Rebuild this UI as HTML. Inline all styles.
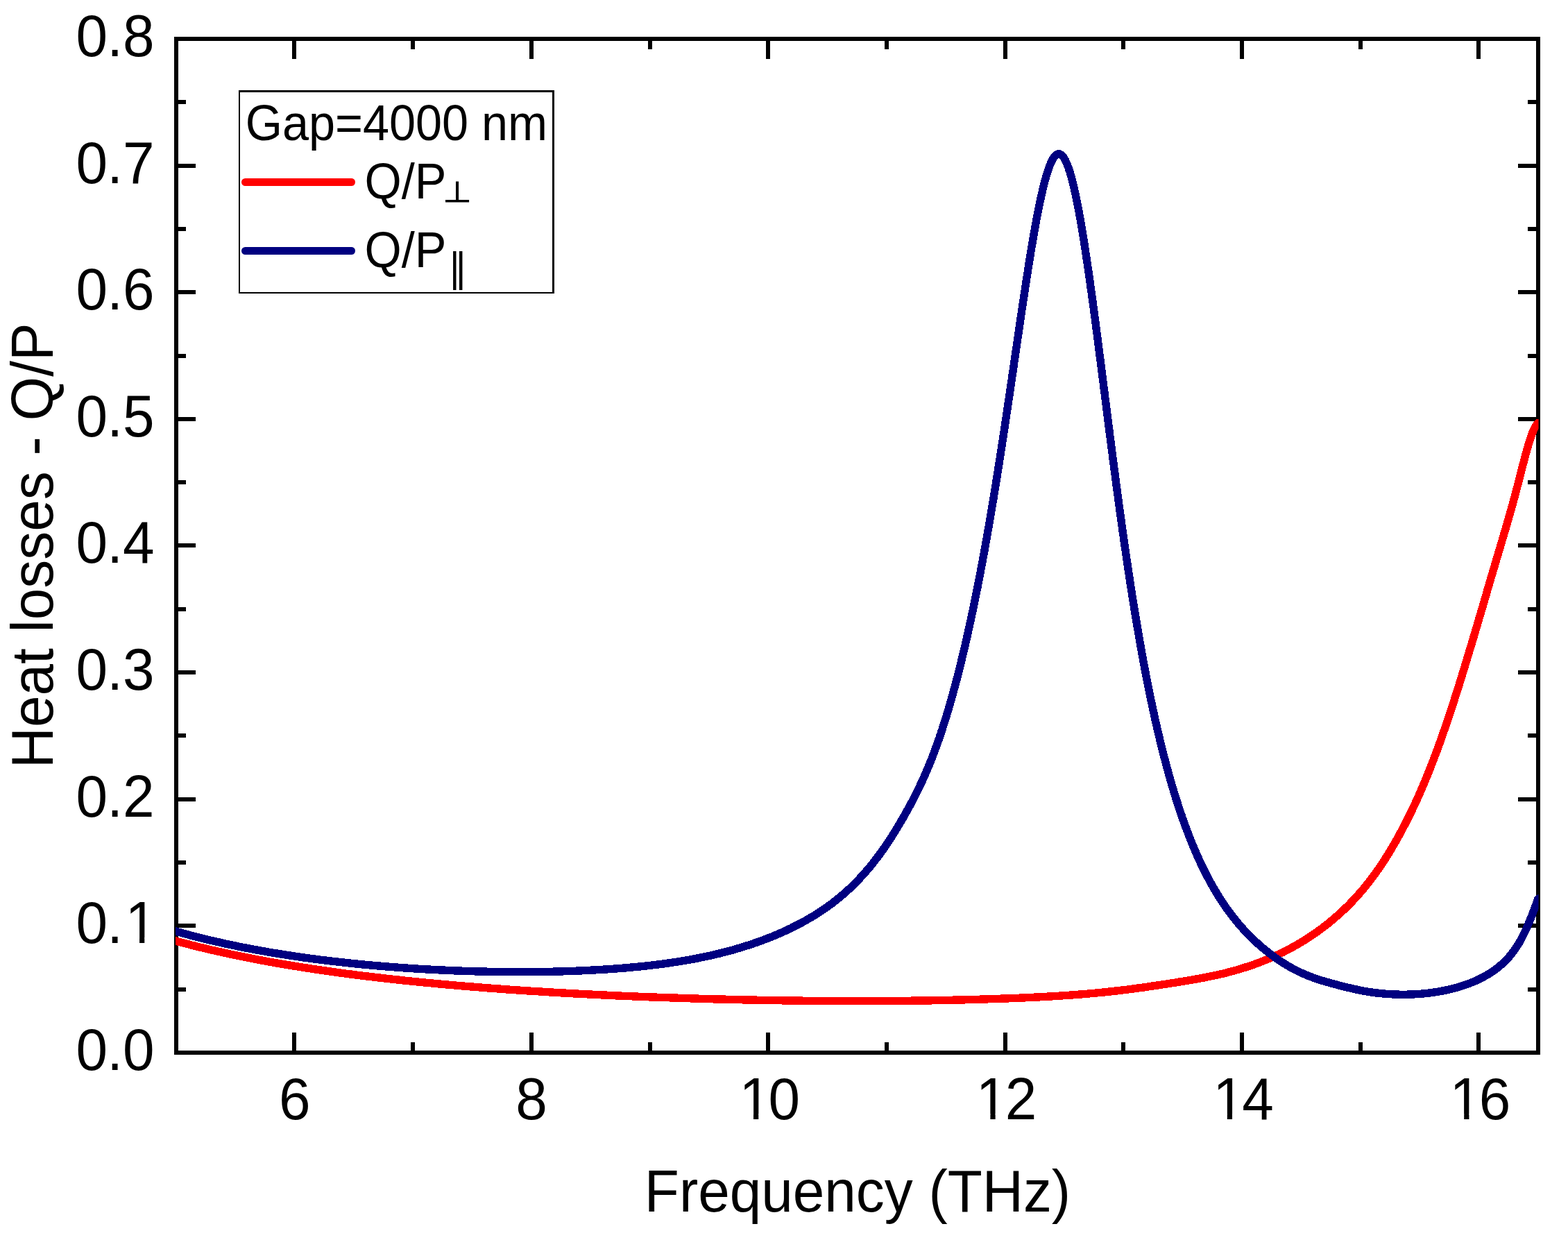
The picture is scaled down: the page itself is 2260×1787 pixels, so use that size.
<!DOCTYPE html>
<html lang="en">
<head>
<meta charset="utf-8">
<title>Heat losses - Q/P vs Frequency (THz)</title>
<style>
html,body{margin:0;padding:0;background:#fff;}
body{width:2260px;height:1787px;overflow:hidden;}
svg{display:block;}
text{fill:#000;font-kerning:none;font-variant-ligatures:none;white-space:pre;}
.ax{fill:none;stroke:#000;stroke-width:6;shape-rendering:crispEdges;}
.tk{fill:#000;shape-rendering:crispEdges;}
.cv{fill:none;stroke-width:11.4;stroke-linejoin:round;stroke-linecap:round;shape-rendering:crispEdges;}
</style>
</head>
<body>
<svg width="2260" height="1787" viewBox="0 0 2260 1787">
<defs><clipPath id="nofoot" clipPathUnits="userSpaceOnUse"><path clip-rule="evenodd" d="M-200 -120H200V60H-200Z M3.74 -7.6H20.59V3H3.74Z M27.83 -7.6H43.55V3H27.83Z"/></clipPath><clipPath id="plot"><rect x="253" y="50" width="1964.5" height="1470"/></clipPath></defs>
<rect x="0" y="0" width="2260" height="1787" fill="#fff"/>
<g class="tk"><rect x="421" y="1488" width="6" height="26"/><rect x="421" y="59" width="6" height="26"/><rect x="592" y="1502" width="6" height="12"/><rect x="592" y="59" width="6" height="12"/><rect x="763" y="1488" width="6" height="26"/><rect x="763" y="59" width="6" height="26"/><rect x="934" y="1502" width="6" height="12"/><rect x="934" y="59" width="6" height="12"/><rect x="1104" y="1488" width="6" height="26"/><rect x="1104" y="59" width="6" height="26"/><rect x="1275" y="1502" width="6" height="12"/><rect x="1275" y="59" width="6" height="12"/><rect x="1446" y="1488" width="6" height="26"/><rect x="1446" y="59" width="6" height="26"/><rect x="1616" y="1502" width="6" height="12"/><rect x="1616" y="59" width="6" height="12"/><rect x="1787" y="1488" width="6" height="26"/><rect x="1787" y="59" width="6" height="26"/><rect x="1958" y="1502" width="6" height="12"/><rect x="1958" y="59" width="6" height="12"/><rect x="2128" y="1488" width="6" height="26"/><rect x="2128" y="59" width="6" height="26"/><rect x="257" y="1423" width="11" height="6"/><rect x="2202" y="1423" width="12" height="6"/><rect x="257" y="1331" width="25" height="6"/><rect x="2188" y="1331" width="26" height="6"/><rect x="257" y="1240" width="11" height="6"/><rect x="2202" y="1240" width="12" height="6"/><rect x="257" y="1149" width="25" height="6"/><rect x="2188" y="1149" width="26" height="6"/><rect x="257" y="1057" width="11" height="6"/><rect x="2202" y="1057" width="12" height="6"/><rect x="257" y="966" width="25" height="6"/><rect x="2188" y="966" width="26" height="6"/><rect x="257" y="875" width="11" height="6"/><rect x="2202" y="875" width="12" height="6"/><rect x="257" y="783" width="25" height="6"/><rect x="2188" y="783" width="26" height="6"/><rect x="257" y="692" width="11" height="6"/><rect x="2202" y="692" width="12" height="6"/><rect x="257" y="601" width="25" height="6"/><rect x="2188" y="601" width="26" height="6"/><rect x="257" y="510" width="11" height="6"/><rect x="2202" y="510" width="12" height="6"/><rect x="257" y="418" width="25" height="6"/><rect x="2188" y="418" width="26" height="6"/><rect x="257" y="327" width="11" height="6"/><rect x="2202" y="327" width="12" height="6"/><rect x="257" y="236" width="25" height="6"/><rect x="2188" y="236" width="26" height="6"/><rect x="257" y="144" width="11" height="6"/><rect x="2202" y="144" width="12" height="6"/></g>
<rect class="ax" x="254" y="56" width="1963" height="1461"/>
<g clip-path="url(#plot)">
<path class="cv" stroke="#ff0000" d="M253.0 1356.0L255.9 1356.8L258.8 1357.5L261.7 1358.3L264.6 1359.1L267.5 1359.8L270.4 1360.6L273.3 1361.3L276.2 1362.1L279.1 1362.8L282.1 1363.5L285.0 1364.3L287.9 1365.0L290.8 1365.7L293.7 1366.4L296.7 1367.1L299.6 1367.8L302.5 1368.5L305.4 1369.1L308.4 1369.8L311.3 1370.5L314.2 1371.1L317.1 1371.8L320.1 1372.4L323.0 1373.1L325.9 1373.7L328.9 1374.4L331.8 1375.0L334.8 1375.6L337.7 1376.2L340.6 1376.8L343.6 1377.5L346.5 1378.1L349.5 1378.7L352.4 1379.2L355.3 1379.8L358.3 1380.4L361.2 1381.0L364.2 1381.6L367.1 1382.1L370.1 1382.7L373.0 1383.3L376.0 1383.8L378.9 1384.4L381.9 1384.9L384.9 1385.4L387.8 1386.0L390.8 1386.5L393.7 1387.0L396.7 1387.6L399.6 1388.1L402.6 1388.6L405.6 1389.1L408.5 1389.6L411.5 1390.1L414.4 1390.6L417.4 1391.1L420.4 1391.6L423.3 1392.1L426.3 1392.5L429.3 1393.0L432.2 1393.5L435.2 1394.0L438.2 1394.4L441.1 1394.9L444.1 1395.3L447.1 1395.8L450.0 1396.3L453.0 1396.7L456.0 1397.1L458.9 1397.6L461.9 1398.0L464.9 1398.4L467.9 1398.9L470.8 1399.3L473.8 1399.7L476.8 1400.1L479.8 1400.6L482.7 1401.0L485.7 1401.4L488.7 1401.8L491.7 1402.2L494.6 1402.6L497.6 1403.0L500.6 1403.4L503.6 1403.8L506.5 1404.1L509.5 1404.5L512.5 1404.9L515.5 1405.3L518.5 1405.7L521.4 1406.0L524.4 1406.4L527.4 1406.8L530.4 1407.1L533.4 1407.5L536.3 1407.8L539.3 1408.2L542.3 1408.5L545.3 1408.9L548.3 1409.2L551.3 1409.6L554.2 1409.9L557.2 1410.3L560.2 1410.6L563.2 1410.9L566.2 1411.3L569.2 1411.6L572.2 1411.9L575.1 1412.2L578.1 1412.5L581.1 1412.9L584.1 1413.2L587.1 1413.5L590.1 1413.8L593.1 1414.1L596.1 1414.4L599.0 1414.7L602.0 1415.0L605.0 1415.3L608.0 1415.6L611.0 1415.9L614.0 1416.2L617.0 1416.5L620.0 1416.7L623.0 1417.0L625.9 1417.3L628.9 1417.6L631.9 1417.9L634.9 1418.1L637.9 1418.4L640.9 1418.7L643.9 1419.0L646.9 1419.2L649.9 1419.5L652.9 1419.7L655.9 1420.0L658.8 1420.3L661.8 1420.5L664.8 1420.8L667.8 1421.0L670.8 1421.3L673.8 1421.5L676.8 1421.8L679.8 1422.0L682.8 1422.2L685.8 1422.5L688.8 1422.7L691.8 1423.0L694.8 1423.2L697.8 1423.4L700.8 1423.7L703.8 1423.9L706.7 1424.1L709.7 1424.3L712.7 1424.6L715.7 1424.8L718.7 1425.0L721.7 1425.2L724.7 1425.4L727.7 1425.6L730.7 1425.9L733.7 1426.1L736.7 1426.3L739.7 1426.5L742.7 1426.7L745.7 1426.9L748.7 1427.1L751.7 1427.3L754.7 1427.5L757.7 1427.7L760.7 1427.9L763.7 1428.1L766.7 1428.3L769.7 1428.5L772.7 1428.7L775.7 1428.8L778.7 1429.0L781.7 1429.2L784.7 1429.4L787.6 1429.6L790.6 1429.8L793.6 1429.9L796.6 1430.1L799.6 1430.3L802.6 1430.5L805.6 1430.6L808.6 1430.8L811.6 1431.0L814.6 1431.1L817.6 1431.3L820.6 1431.5L823.6 1431.6L826.6 1431.8L829.6 1432.0L832.6 1432.1L835.6 1432.3L838.6 1432.4L841.6 1432.6L844.6 1432.7L847.6 1432.9L850.6 1433.0L853.6 1433.2L856.6 1433.3L859.6 1433.5L862.6 1433.6L865.6 1433.8L868.6 1433.9L871.6 1434.1L874.6 1434.2L877.6 1434.3L880.6 1434.5L883.6 1434.6L886.6 1434.8L889.6 1434.9L892.6 1435.0L895.6 1435.2L898.6 1435.3L901.6 1435.4L904.6 1435.5L907.6 1435.7L910.6 1435.8L913.6 1435.9L916.6 1436.0L919.6 1436.2L922.6 1436.3L925.6 1436.4L928.6 1436.5L931.6 1436.6L934.6 1436.8L937.6 1436.9L940.6 1437.0L943.6 1437.1L946.6 1437.2L949.6 1437.3L952.6 1437.4L955.6 1437.5L958.6 1437.6L961.6 1437.7L964.6 1437.8L967.6 1437.9L970.6 1438.0L973.6 1438.1L976.6 1438.2L979.7 1438.3L982.7 1438.4L985.7 1438.5L988.7 1438.6L991.7 1438.7L994.7 1438.8L997.7 1438.9L1000.7 1439.0L1003.7 1439.1L1006.7 1439.2L1009.7 1439.3L1012.7 1439.3L1015.7 1439.4L1018.7 1439.5L1021.7 1439.6L1024.7 1439.7L1027.7 1439.8L1030.7 1439.8L1033.7 1439.9L1036.7 1440.0L1039.7 1440.1L1042.7 1440.1L1045.7 1440.2L1048.7 1440.3L1051.7 1440.4L1054.7 1440.4L1057.7 1440.5L1060.7 1440.6L1063.7 1440.6L1066.7 1440.7L1069.7 1440.8L1072.7 1440.8L1075.7 1440.9L1078.7 1441.0L1081.7 1441.0L1084.7 1441.1L1087.7 1441.1L1090.7 1441.2L1093.7 1441.2L1096.7 1441.3L1099.7 1441.4L1102.7 1441.4L1105.7 1441.5L1108.8 1441.5L1111.8 1441.6L1114.8 1441.6L1117.8 1441.7L1120.8 1441.7L1123.8 1441.7L1126.8 1441.8L1129.8 1441.8L1132.8 1441.9L1135.8 1441.9L1138.8 1441.9L1141.8 1442.0L1144.8 1442.0L1147.8 1442.1L1150.8 1442.1L1153.8 1442.1L1156.8 1442.2L1159.8 1442.2L1162.8 1442.2L1165.8 1442.2L1168.8 1442.3L1171.8 1442.3L1174.8 1442.3L1177.8 1442.4L1180.8 1442.4L1183.8 1442.4L1186.8 1442.4L1189.8 1442.4L1192.8 1442.5L1195.8 1442.5L1198.8 1442.5L1201.8 1442.5L1204.8 1442.5L1207.9 1442.5L1210.9 1442.5L1213.9 1442.6L1216.9 1442.6L1219.9 1442.6L1222.9 1442.6L1225.9 1442.6L1228.9 1442.6L1231.9 1442.6L1234.9 1442.6L1237.9 1442.6L1240.9 1442.6L1243.9 1442.6L1246.9 1442.6L1249.9 1442.6L1252.9 1442.6L1255.9 1442.6L1258.9 1442.6L1261.9 1442.5L1264.9 1442.5L1267.9 1442.5L1270.9 1442.5L1273.9 1442.5L1276.9 1442.5L1279.9 1442.5L1282.9 1442.4L1285.9 1442.4L1288.9 1442.4L1291.9 1442.4L1294.9 1442.3L1297.9 1442.3L1301.0 1442.3L1304.0 1442.3L1307.0 1442.2L1310.0 1442.2L1313.0 1442.2L1316.0 1442.1L1319.0 1442.1L1322.0 1442.1L1325.0 1442.0L1328.0 1442.0L1331.0 1441.9L1334.0 1441.9L1337.0 1441.8L1340.0 1441.8L1343.0 1441.8L1346.0 1441.7L1349.0 1441.7L1352.0 1441.6L1355.0 1441.5L1358.0 1441.5L1361.0 1441.4L1364.0 1441.4L1367.0 1441.3L1370.0 1441.3L1373.0 1441.2L1376.0 1441.1L1379.0 1441.1L1382.0 1441.0L1385.0 1440.9L1388.0 1440.8L1391.0 1440.8L1394.0 1440.7L1397.0 1440.6L1400.0 1440.5L1403.0 1440.5L1406.0 1440.4L1409.1 1440.3L1412.1 1440.2L1415.1 1440.1L1418.1 1440.0L1421.1 1439.9L1424.1 1439.8L1427.1 1439.7L1430.1 1439.6L1433.1 1439.5L1436.1 1439.4L1439.1 1439.3L1442.1 1439.2L1445.1 1439.1L1448.1 1439.0L1451.1 1438.9L1454.1 1438.8L1457.1 1438.7L1460.1 1438.6L1463.1 1438.4L1466.1 1438.3L1469.1 1438.2L1472.1 1438.1L1475.1 1437.9L1478.1 1437.8L1481.1 1437.7L1484.1 1437.5L1487.1 1437.4L1490.1 1437.2L1493.1 1437.1L1496.1 1436.9L1499.1 1436.8L1502.1 1436.6L1505.1 1436.4L1508.1 1436.3L1511.1 1436.1L1514.1 1435.9L1517.1 1435.8L1520.1 1435.6L1523.1 1435.4L1526.1 1435.2L1529.1 1435.0L1532.1 1434.8L1535.1 1434.6L1538.0 1434.4L1541.0 1434.2L1544.0 1434.0L1547.0 1433.8L1550.0 1433.6L1553.0 1433.3L1556.0 1433.1L1559.0 1432.9L1562.0 1432.6L1565.0 1432.4L1568.0 1432.1L1571.0 1431.8L1574.0 1431.6L1577.0 1431.3L1580.0 1431.0L1582.9 1430.7L1585.9 1430.5L1588.9 1430.2L1591.9 1429.9L1594.9 1429.6L1597.9 1429.2L1600.9 1428.9L1603.9 1428.6L1606.8 1428.2L1609.8 1427.9L1612.8 1427.5L1615.8 1427.2L1618.8 1426.8L1621.8 1426.5L1624.7 1426.1L1627.7 1425.7L1630.7 1425.3L1633.7 1424.9L1636.6 1424.5L1639.6 1424.1L1642.6 1423.7L1645.6 1423.3L1648.5 1422.9L1651.5 1422.4L1654.5 1422.0L1657.5 1421.6L1660.4 1421.1L1663.4 1420.7L1666.4 1420.3L1669.3 1419.8L1672.3 1419.4L1675.3 1418.9L1678.2 1418.5L1681.2 1418.0L1684.2 1417.6L1687.2 1417.1L1690.1 1416.6L1693.1 1416.2L1696.1 1415.7L1699.0 1415.2L1702.0 1414.7L1704.9 1414.3L1707.9 1413.8L1710.9 1413.3L1713.8 1412.8L1716.8 1412.3L1719.8 1411.8L1722.7 1411.2L1725.7 1410.7L1728.6 1410.2L1731.6 1409.6L1734.5 1409.1L1737.5 1408.5L1740.4 1407.9L1743.4 1407.3L1746.3 1406.7L1749.2 1406.1L1752.2 1405.5L1755.1 1404.8L1758.0 1404.2L1761.0 1403.5L1763.9 1402.8L1766.8 1402.1L1769.7 1401.3L1772.6 1400.6L1775.5 1399.8L1778.4 1399.0L1781.3 1398.2L1784.2 1397.4L1787.1 1396.5L1790.0 1395.6L1792.8 1394.7L1795.7 1393.8L1798.5 1392.9L1801.4 1391.9L1804.2 1391.0L1807.1 1390.0L1809.9 1389.0L1812.7 1387.9L1815.5 1386.9L1818.3 1385.8L1821.1 1384.7L1823.9 1383.6L1826.7 1382.5L1829.5 1381.3L1832.2 1380.1L1835.0 1378.9L1837.7 1377.7L1840.4 1376.4L1843.2 1375.2L1845.9 1373.9L1848.6 1372.6L1851.3 1371.2L1853.9 1369.9L1856.6 1368.5L1859.3 1367.1L1861.9 1365.6L1864.5 1364.2L1867.2 1362.7L1869.8 1361.2L1872.4 1359.7L1874.9 1358.2L1877.5 1356.6L1880.1 1355.1L1882.6 1353.5L1885.1 1351.8L1887.7 1350.2L1890.2 1348.5L1892.6 1346.8L1895.1 1345.1L1897.6 1343.4L1900.0 1341.7L1902.4 1339.9L1904.9 1338.1L1907.3 1336.3L1909.6 1334.5L1912.0 1332.6L1914.4 1330.8L1916.7 1328.9L1919.0 1327.0L1921.3 1325.0L1923.6 1323.1L1925.9 1321.1L1928.1 1319.1L1930.4 1317.1L1932.6 1315.1L1934.8 1313.1L1937.0 1311.0L1939.1 1308.9L1941.3 1306.8L1943.4 1304.7L1945.5 1302.6L1947.6 1300.4L1949.7 1298.3L1951.7 1296.1L1953.8 1293.9L1955.8 1291.6L1957.8 1289.4L1959.8 1287.1L1961.8 1284.9L1963.7 1282.6L1965.6 1280.3L1967.5 1278.0L1969.4 1275.6L1971.3 1273.3L1973.2 1270.9L1975.0 1268.6L1976.8 1266.2L1978.6 1263.8L1980.4 1261.4L1982.2 1258.9L1983.9 1256.5L1985.7 1254.0L1987.4 1251.6L1989.1 1249.1L1990.8 1246.6L1992.4 1244.1L1994.1 1241.6L1995.7 1239.1L1997.3 1236.5L1998.9 1234.0L2000.5 1231.4L2002.1 1228.9L2003.6 1226.3L2005.2 1223.7L2006.7 1221.1L2008.2 1218.6L2009.7 1216.0L2011.2 1213.4L2012.7 1210.7L2014.2 1208.1L2015.6 1205.5L2017.1 1202.9L2018.5 1200.2L2019.9 1197.6L2021.3 1194.9L2022.7 1192.3L2024.1 1189.6L2025.5 1186.9L2026.9 1184.3L2028.2 1181.6L2029.6 1178.9L2030.9 1176.2L2032.3 1173.5L2033.6 1170.8L2034.9 1168.1L2036.2 1165.4L2037.5 1162.7L2038.7 1160.0L2040.0 1157.3L2041.2 1154.5L2042.5 1151.8L2043.7 1149.1L2045.0 1146.3L2046.2 1143.6L2047.4 1140.8L2048.6 1138.1L2049.8 1135.3L2050.9 1132.5L2052.1 1129.8L2053.3 1127.0L2054.4 1124.2L2055.6 1121.5L2056.7 1118.7L2057.9 1115.9L2059.0 1113.1L2060.1 1110.3L2061.2 1107.5L2062.3 1104.7L2063.4 1101.9L2064.5 1099.1L2065.6 1096.3L2066.6 1093.5L2067.7 1090.7L2068.8 1087.9L2069.8 1085.1L2070.9 1082.3L2071.9 1079.5L2072.9 1076.7L2074.0 1073.8L2075.0 1071.0L2076.0 1068.2L2077.0 1065.4L2078.0 1062.5L2079.0 1059.7L2080.0 1056.9L2081.0 1054.0L2082.0 1051.2L2083.0 1048.3L2083.9 1045.5L2084.9 1042.7L2085.9 1039.8L2086.8 1037.0L2087.8 1034.1L2088.7 1031.3L2089.7 1028.4L2090.6 1025.6L2091.6 1022.7L2092.5 1019.9L2093.4 1017.0L2094.4 1014.2L2095.3 1011.3L2096.2 1008.4L2097.1 1005.6L2098.0 1002.7L2099.0 999.9L2099.9 997.0L2100.8 994.1L2101.7 991.3L2102.6 988.4L2103.5 985.5L2104.4 982.7L2105.3 979.8L2106.1 976.9L2107.0 974.1L2107.9 971.2L2108.8 968.3L2109.7 965.5L2110.6 962.6L2111.4 959.7L2112.3 956.8L2113.2 954.0L2114.1 951.1L2114.9 948.2L2115.8 945.3L2116.7 942.5L2117.5 939.6L2118.4 936.7L2119.3 933.8L2120.1 931.0L2121.0 928.1L2121.9 925.2L2122.7 922.3L2123.6 919.5L2124.4 916.6L2125.3 913.7L2126.1 910.8L2127.0 907.9L2127.8 905.1L2128.7 902.2L2129.5 899.3L2130.4 896.4L2131.2 893.5L2132.1 890.7L2132.9 887.8L2133.8 884.9L2134.6 882.0L2135.5 879.1L2136.3 876.3L2137.2 873.4L2138.0 870.5L2138.9 867.6L2139.7 864.7L2140.6 861.8L2141.4 859.0L2142.3 856.1L2143.1 853.2L2143.9 850.3L2144.8 847.4L2145.6 844.6L2146.5 841.7L2147.3 838.8L2148.2 835.9L2149.0 833.0L2149.9 830.2L2150.7 827.3L2151.6 824.4L2152.4 821.5L2153.3 818.6L2154.1 815.8L2155.0 812.9L2155.8 810.0L2156.7 807.1L2157.5 804.2L2158.4 801.4L2159.3 798.5L2160.1 795.6L2161.0 792.7L2161.8 789.8L2162.7 787.0L2163.5 784.1L2164.4 781.2L2165.2 778.3L2166.1 775.4L2166.9 772.6L2167.8 769.7L2168.6 766.8L2169.5 763.9L2170.3 761.0L2171.1 758.1L2172.0 755.3L2172.8 752.4L2173.7 749.5L2174.5 746.6L2175.3 743.7L2176.2 740.8L2177.0 738.0L2177.8 735.1L2178.6 732.2L2179.4 729.3L2180.2 726.4L2181.0 723.5L2181.8 720.6L2182.6 717.7L2183.4 714.8L2184.2 711.9L2184.9 709.0L2185.7 706.1L2186.4 703.2L2187.2 700.3L2187.9 697.4L2188.7 694.4L2189.4 691.5L2190.2 688.6L2190.9 685.7L2191.7 682.8L2192.4 679.9L2193.1 677.0L2193.9 674.1L2194.6 671.2L2195.4 668.3L2196.2 665.4L2196.9 662.5L2197.7 659.6L2198.5 656.7L2199.3 653.8L2200.1 650.9L2200.9 648.0L2201.7 645.1L2202.6 642.2L2203.4 639.3L2204.3 636.5L2205.2 633.6L2206.2 630.8L2207.2 627.9L2208.2 625.1L2209.3 622.3L2210.5 619.6L2211.8 616.8L2213.3 614.2L2214.9 611.7L2217.0 609.5"/>
<path class="cv" stroke="#000080" d="M253.0 1342.0L255.9 1342.8L258.8 1343.6L261.7 1344.4L264.6 1345.2L267.5 1346.0L270.4 1346.8L273.3 1347.6L276.2 1348.3L279.1 1349.1L282.0 1349.8L284.9 1350.6L287.8 1351.3L290.7 1352.0L293.6 1352.8L296.5 1353.5L299.5 1354.2L302.4 1354.9L305.3 1355.6L308.2 1356.2L311.2 1356.9L314.1 1357.6L317.0 1358.2L319.9 1358.9L322.9 1359.5L325.8 1360.2L328.7 1360.8L331.7 1361.4L334.6 1362.1L337.6 1362.7L340.5 1363.3L343.4 1363.9L346.4 1364.5L349.3 1365.1L352.3 1365.7L355.2 1366.2L358.2 1366.8L361.1 1367.4L364.1 1367.9L367.0 1368.5L370.0 1369.0L372.9 1369.5L375.9 1370.1L378.8 1370.6L381.8 1371.1L384.7 1371.6L387.7 1372.2L390.7 1372.7L393.6 1373.2L396.6 1373.6L399.5 1374.1L402.5 1374.6L405.5 1375.1L408.4 1375.6L411.4 1376.0L414.4 1376.5L417.3 1376.9L420.3 1377.4L423.3 1377.8L426.2 1378.3L429.2 1378.7L432.2 1379.1L435.2 1379.6L438.1 1380.0L441.1 1380.4L444.1 1380.8L447.1 1381.2L450.0 1381.6L453.0 1382.0L456.0 1382.4L459.0 1382.8L461.9 1383.2L464.9 1383.5L467.9 1383.9L470.9 1384.3L473.9 1384.6L476.8 1385.0L479.8 1385.3L482.8 1385.7L485.8 1386.0L488.8 1386.4L491.7 1386.7L494.7 1387.0L497.7 1387.4L500.7 1387.7L503.7 1388.0L506.7 1388.3L509.7 1388.6L512.6 1388.9L515.6 1389.2L518.6 1389.5L521.6 1389.8L524.6 1390.1L527.6 1390.4L530.6 1390.7L533.6 1390.9L536.6 1391.2L539.5 1391.5L542.5 1391.7L545.5 1392.0L548.5 1392.2L551.5 1392.5L554.5 1392.7L557.5 1393.0L560.5 1393.2L563.5 1393.5L566.5 1393.7L569.5 1393.9L572.5 1394.1L575.5 1394.4L578.4 1394.6L581.4 1394.8L584.4 1395.0L587.4 1395.2L590.4 1395.4L593.4 1395.6L596.4 1395.8L599.4 1396.0L602.4 1396.2L605.4 1396.4L608.4 1396.5L611.4 1396.7L614.4 1396.9L617.4 1397.0L620.4 1397.2L623.4 1397.4L626.4 1397.5L629.4 1397.7L632.4 1397.8L635.4 1398.0L638.4 1398.1L641.4 1398.2L644.4 1398.4L647.4 1398.5L650.4 1398.6L653.4 1398.8L656.4 1398.9L659.4 1399.0L662.4 1399.1L665.4 1399.2L668.4 1399.3L671.4 1399.4L674.4 1399.5L677.4 1399.6L680.4 1399.7L683.4 1399.8L686.4 1399.9L689.4 1399.9L692.4 1400.0L695.4 1400.1L698.4 1400.1L701.4 1400.2L704.4 1400.3L707.4 1400.3L710.4 1400.4L713.4 1400.4L716.4 1400.5L719.4 1400.5L722.4 1400.5L725.4 1400.6L728.4 1400.6L731.4 1400.6L734.4 1400.7L737.4 1400.7L740.4 1400.7L743.4 1400.7L746.4 1400.7L749.4 1400.7L752.4 1400.7L755.4 1400.7L758.4 1400.7L761.4 1400.7L764.4 1400.6L767.4 1400.6L770.4 1400.6L773.4 1400.6L776.4 1400.5L779.4 1400.5L782.4 1400.5L785.4 1400.4L788.4 1400.4L791.4 1400.3L794.5 1400.2L797.5 1400.2L800.5 1400.1L803.5 1400.0L806.5 1399.9L809.5 1399.9L812.5 1399.8L815.5 1399.7L818.5 1399.6L821.5 1399.5L824.5 1399.4L827.5 1399.3L830.5 1399.2L833.5 1399.0L836.5 1398.9L839.5 1398.8L842.5 1398.6L845.5 1398.5L848.5 1398.4L851.5 1398.2L854.5 1398.0L857.4 1397.9L860.4 1397.7L863.4 1397.5L866.4 1397.4L869.4 1397.2L872.4 1397.0L875.4 1396.8L878.4 1396.6L881.4 1396.4L884.4 1396.2L887.4 1396.0L890.4 1395.7L893.4 1395.5L896.4 1395.3L899.4 1395.0L902.4 1394.8L905.4 1394.5L908.4 1394.2L911.3 1394.0L914.3 1393.7L917.3 1393.4L920.3 1393.1L923.3 1392.8L926.3 1392.5L929.3 1392.2L932.2 1391.8L935.2 1391.5L938.2 1391.2L941.2 1390.8L944.2 1390.5L947.2 1390.1L950.1 1389.7L953.1 1389.3L956.1 1389.0L959.1 1388.5L962.0 1388.1L965.0 1387.7L968.0 1387.3L971.0 1386.8L973.9 1386.4L976.9 1385.9L979.9 1385.5L982.8 1385.0L985.8 1384.5L988.7 1384.0L991.7 1383.5L994.7 1382.9L997.6 1382.4L1000.6 1381.9L1003.5 1381.3L1006.5 1380.7L1009.4 1380.1L1012.3 1379.5L1015.3 1378.9L1018.2 1378.3L1021.1 1377.7L1024.1 1377.0L1027.0 1376.3L1029.9 1375.7L1032.9 1375.0L1035.8 1374.3L1038.7 1373.6L1041.6 1372.8L1044.5 1372.1L1047.4 1371.3L1050.3 1370.5L1053.2 1369.8L1056.1 1369.0L1059.0 1368.1L1061.9 1367.3L1064.8 1366.5L1067.6 1365.6L1070.5 1364.7L1073.4 1363.8L1076.2 1362.9L1079.1 1362.0L1081.9 1361.1L1084.8 1360.1L1087.6 1359.1L1090.5 1358.2L1093.3 1357.2L1096.1 1356.1L1098.9 1355.1L1101.7 1354.0L1104.5 1353.0L1107.3 1351.9L1110.1 1350.8L1112.9 1349.7L1115.7 1348.5L1118.5 1347.4L1121.2 1346.2L1124.0 1345.0L1126.7 1343.8L1129.5 1342.6L1132.2 1341.3L1134.9 1340.0L1137.6 1338.8L1140.3 1337.5L1143.0 1336.1L1145.7 1334.8L1148.4 1333.4L1151.1 1332.1L1153.7 1330.7L1156.4 1329.2L1159.0 1327.8L1161.6 1326.3L1164.2 1324.8L1166.8 1323.3L1169.4 1321.8L1172.0 1320.3L1174.6 1318.7L1177.1 1317.1L1179.6 1315.5L1182.1 1313.9L1184.7 1312.2L1187.1 1310.5L1189.6 1308.8L1192.1 1307.1L1194.5 1305.3L1196.9 1303.6L1199.3 1301.8L1201.7 1299.9L1204.1 1298.1L1206.4 1296.2L1208.8 1294.3L1211.1 1292.4L1213.4 1290.5L1215.7 1288.5L1217.9 1286.6L1220.1 1284.6L1222.4 1282.5L1224.6 1280.5L1226.7 1278.4L1228.9 1276.3L1231.1 1274.2L1233.2 1272.1L1235.3 1270.0L1237.4 1267.8L1239.4 1265.6L1241.5 1263.4L1243.5 1261.2L1245.5 1259.0L1247.5 1256.7L1249.4 1254.5L1251.4 1252.2L1253.3 1249.9L1255.2 1247.6L1257.1 1245.2L1259.0 1242.9L1260.8 1240.5L1262.7 1238.1L1264.5 1235.7L1266.3 1233.3L1268.1 1230.9L1269.8 1228.5L1271.6 1226.0L1273.3 1223.6L1275.0 1221.1L1276.7 1218.6L1278.4 1216.2L1280.1 1213.7L1281.7 1211.2L1283.4 1208.6L1285.0 1206.1L1286.6 1203.6L1288.2 1201.1L1289.8 1198.5L1291.4 1195.9L1292.9 1193.4L1294.5 1190.8L1296.0 1188.2L1297.5 1185.6L1299.0 1183.1L1300.6 1180.5L1302.1 1177.9L1303.5 1175.3L1305.0 1172.6L1306.5 1170.0L1307.9 1167.4L1309.4 1164.8L1310.8 1162.1L1312.2 1159.5L1313.7 1156.8L1315.1 1154.2L1316.5 1151.5L1317.8 1148.9L1319.2 1146.2L1320.5 1143.5L1321.9 1140.8L1323.2 1138.1L1324.5 1135.4L1325.8 1132.7L1327.1 1130.0L1328.4 1127.3L1329.6 1124.6L1330.9 1121.8L1332.1 1119.1L1333.3 1116.3L1334.5 1113.6L1335.7 1110.8L1336.9 1108.1L1338.1 1105.3L1339.2 1102.5L1340.3 1099.7L1341.5 1097.0L1342.6 1094.2L1343.7 1091.4L1344.7 1088.6L1345.8 1085.8L1346.9 1083.0L1347.9 1080.1L1348.9 1077.3L1350.0 1074.5L1351.0 1071.7L1352.0 1068.8L1353.0 1066.0L1354.0 1063.2L1354.9 1060.3L1355.9 1057.5L1356.8 1054.6L1357.8 1051.8L1358.7 1048.9L1359.6 1046.1L1360.6 1043.2L1361.5 1040.4L1362.4 1037.5L1363.3 1034.6L1364.1 1031.8L1365.0 1028.9L1365.9 1026.0L1366.7 1023.1L1367.6 1020.3L1368.4 1017.4L1369.3 1014.5L1370.1 1011.6L1370.9 1008.7L1371.7 1005.8L1372.6 1002.9L1373.4 1000.1L1374.2 997.2L1374.9 994.3L1375.7 991.4L1376.5 988.5L1377.3 985.6L1378.0 982.7L1378.8 979.8L1379.6 976.9L1380.3 973.9L1381.1 971.0L1381.8 968.1L1382.5 965.2L1383.3 962.3L1384.0 959.4L1384.7 956.5L1385.4 953.6L1386.1 950.6L1386.8 947.7L1387.5 944.8L1388.2 941.9L1388.9 939.0L1389.6 936.0L1390.3 933.1L1391.0 930.2L1391.7 927.3L1392.3 924.3L1393.0 921.4L1393.7 918.5L1394.3 915.6L1395.0 912.6L1395.6 909.7L1396.3 906.8L1396.9 903.8L1397.6 900.9L1398.2 898.0L1398.9 895.0L1399.5 892.1L1400.1 889.2L1400.7 886.2L1401.4 883.3L1402.0 880.4L1402.6 877.4L1403.2 874.5L1403.8 871.5L1404.4 868.6L1405.0 865.7L1405.6 862.7L1406.2 859.8L1406.8 856.8L1407.4 853.9L1408.0 850.9L1408.6 848.0L1409.2 845.1L1409.7 842.1L1410.3 839.2L1410.9 836.2L1411.5 833.3L1412.0 830.3L1412.6 827.4L1413.2 824.4L1413.7 821.5L1414.3 818.5L1414.8 815.6L1415.4 812.6L1415.9 809.7L1416.5 806.7L1417.0 803.8L1417.6 800.8L1418.1 797.9L1418.7 794.9L1419.2 792.0L1419.7 789.0L1420.3 786.0L1420.8 783.1L1421.3 780.1L1421.8 777.2L1422.4 774.2L1422.9 771.3L1423.4 768.3L1423.9 765.4L1424.4 762.4L1425.0 759.4L1425.5 756.5L1426.0 753.5L1426.5 750.6L1427.0 747.6L1427.5 744.6L1428.0 741.7L1428.5 738.7L1429.0 735.8L1429.5 732.8L1430.0 729.8L1430.5 726.9L1431.0 723.9L1431.5 721.0L1432.0 718.0L1432.4 715.0L1432.9 712.1L1433.4 709.1L1433.9 706.1L1434.4 703.2L1434.9 700.2L1435.3 697.3L1435.8 694.3L1436.3 691.3L1436.8 688.4L1437.2 685.4L1437.7 682.4L1438.2 679.5L1438.7 676.5L1439.1 673.5L1439.6 670.6L1440.1 667.6L1440.5 664.6L1441.0 661.7L1441.4 658.7L1441.9 655.7L1442.4 652.8L1442.8 649.8L1443.3 646.8L1443.7 643.9L1444.2 640.9L1444.7 637.9L1445.1 635.0L1445.6 632.0L1446.0 629.0L1446.5 626.1L1446.9 623.1L1447.4 620.1L1447.8 617.2L1448.3 614.2L1448.7 611.2L1449.1 608.3L1449.6 605.3L1450.0 602.3L1450.5 599.4L1450.9 596.4L1451.4 593.4L1451.8 590.4L1452.2 587.5L1452.7 584.5L1453.1 581.5L1453.6 578.6L1454.0 575.6L1454.4 572.6L1454.9 569.7L1455.3 566.7L1455.8 563.7L1456.2 560.7L1456.6 557.8L1457.1 554.8L1457.5 551.8L1457.9 548.9L1458.4 545.9L1458.8 542.9L1459.2 539.9L1459.7 537.0L1460.1 534.0L1460.5 531.0L1461.0 528.1L1461.4 525.1L1461.8 522.1L1462.3 519.2L1462.7 516.2L1463.1 513.2L1463.6 510.2L1464.0 507.3L1464.4 504.3L1464.9 501.3L1465.3 498.4L1465.7 495.4L1466.2 492.4L1466.6 489.4L1467.0 486.5L1467.5 483.5L1467.9 480.5L1468.3 477.6L1468.8 474.6L1469.2 471.6L1469.6 468.7L1470.1 465.7L1470.5 462.7L1470.9 459.7L1471.4 456.8L1471.8 453.8L1472.3 450.8L1472.7 447.9L1473.1 444.9L1473.6 441.9L1474.0 439.0L1474.5 436.0L1474.9 433.0L1475.4 430.0L1475.8 427.1L1476.3 424.1L1476.7 421.1L1477.2 418.2L1477.6 415.2L1478.1 412.2L1478.5 409.3L1479.0 406.3L1479.4 403.3L1479.9 400.4L1480.3 397.4L1480.8 394.4L1481.3 391.5L1481.7 388.5L1482.2 385.5L1482.7 382.6L1483.1 379.6L1483.6 376.6L1484.1 373.7L1484.6 370.7L1485.0 367.8L1485.5 364.8L1486.0 361.8L1486.5 358.9L1487.0 355.9L1487.5 352.9L1488.0 350.0L1488.5 347.0L1489.0 344.1L1489.5 341.1L1490.0 338.1L1490.5 335.2L1491.1 332.2L1491.6 329.3L1492.1 326.3L1492.6 323.4L1493.2 320.4L1493.7 317.5L1494.3 314.5L1494.8 311.6L1495.4 308.6L1496.0 305.7L1496.6 302.7L1497.1 299.8L1497.7 296.8L1498.3 293.9L1499.0 291.0L1499.6 288.0L1500.2 285.1L1500.9 282.1L1501.5 279.2L1502.2 276.3L1502.9 273.4L1503.6 270.4L1504.3 267.5L1505.0 264.6L1505.8 261.7L1506.6 258.8L1507.4 255.9L1508.2 253.0L1509.1 250.2L1510.0 247.3L1510.9 244.5L1511.9 241.6L1513.0 238.8L1514.1 236.0L1515.3 233.3L1516.7 230.6L1518.2 228.0L1519.9 225.6L1522.0 223.4L1524.6 221.9L1527.5 222.0L1530.1 223.5L1532.1 225.7L1533.9 228.1L1535.3 230.8L1536.6 233.5L1537.8 236.2L1538.9 239.0L1540.0 241.8L1540.9 244.7L1541.9 247.5L1542.7 250.4L1543.6 253.3L1544.4 256.2L1545.1 259.1L1545.9 262.0L1546.6 264.9L1547.3 267.8L1548.0 270.7L1548.7 273.6L1549.3 276.6L1550.0 279.5L1550.6 282.4L1551.2 285.4L1551.8 288.3L1552.4 291.3L1553.0 294.2L1553.6 297.2L1554.1 300.1L1554.7 303.1L1555.3 306.0L1555.8 309.0L1556.3 311.9L1556.9 314.9L1557.4 317.8L1557.9 320.8L1558.4 323.7L1558.9 326.7L1559.4 329.7L1559.9 332.6L1560.4 335.6L1560.9 338.6L1561.3 341.5L1561.8 344.5L1562.3 347.4L1562.8 350.4L1563.2 353.4L1563.7 356.3L1564.1 359.3L1564.6 362.3L1565.0 365.2L1565.5 368.2L1565.9 371.2L1566.4 374.2L1566.8 377.1L1567.3 380.1L1567.7 383.1L1568.1 386.0L1568.6 389.0L1569.0 392.0L1569.4 395.0L1569.8 397.9L1570.3 400.9L1570.7 403.9L1571.1 406.8L1571.5 409.8L1571.9 412.8L1572.3 415.8L1572.7 418.7L1573.2 421.7L1573.6 424.7L1574.0 427.7L1574.4 430.6L1574.8 433.6L1575.2 436.6L1575.6 439.6L1576.0 442.5L1576.4 445.5L1576.8 448.5L1577.2 451.5L1577.6 454.4L1578.0 457.4L1578.4 460.4L1578.8 463.4L1579.2 466.3L1579.5 469.3L1579.9 472.3L1580.3 475.3L1580.7 478.2L1581.1 481.2L1581.5 484.2L1581.9 487.2L1582.3 490.2L1582.6 493.1L1583.0 496.1L1583.4 499.1L1583.8 502.1L1584.2 505.0L1584.6 508.0L1584.9 511.0L1585.3 514.0L1585.7 517.0L1586.1 519.9L1586.5 522.9L1586.9 525.9L1587.2 528.9L1587.6 531.8L1588.0 534.8L1588.4 537.8L1588.7 540.8L1589.1 543.8L1589.5 546.7L1589.9 549.7L1590.3 552.7L1590.6 555.7L1591.0 558.6L1591.4 561.6L1591.8 564.6L1592.2 567.6L1592.5 570.6L1592.9 573.5L1593.3 576.5L1593.7 579.5L1594.0 582.5L1594.4 585.5L1594.8 588.4L1595.2 591.4L1595.6 594.4L1595.9 597.4L1596.3 600.3L1596.7 603.3L1597.1 606.3L1597.4 609.3L1597.8 612.3L1598.2 615.2L1598.6 618.2L1599.0 621.2L1599.3 624.2L1599.7 627.1L1600.1 630.1L1600.5 633.1L1600.9 636.1L1601.3 639.1L1601.6 642.0L1602.0 645.0L1602.4 648.0L1602.8 651.0L1603.2 653.9L1603.6 656.9L1603.9 659.9L1604.3 662.9L1604.7 665.9L1605.1 668.8L1605.5 671.8L1605.9 674.8L1606.3 677.8L1606.7 680.7L1607.1 683.7L1607.4 686.7L1607.8 689.7L1608.2 692.6L1608.6 695.6L1609.0 698.6L1609.4 701.6L1609.8 704.5L1610.2 707.5L1610.6 710.5L1611.0 713.5L1611.4 716.4L1611.8 719.4L1612.2 722.4L1612.6 725.4L1613.0 728.4L1613.4 731.3L1613.8 734.3L1614.2 737.3L1614.6 740.2L1615.0 743.2L1615.4 746.2L1615.9 749.2L1616.3 752.1L1616.7 755.1L1617.1 758.1L1617.5 761.1L1617.9 764.0L1618.3 767.0L1618.8 770.0L1619.2 773.0L1619.6 775.9L1620.0 778.9L1620.4 781.9L1620.9 784.8L1621.3 787.8L1621.7 790.8L1622.2 793.8L1622.6 796.7L1623.0 799.7L1623.5 802.7L1623.9 805.6L1624.3 808.6L1624.8 811.6L1625.2 814.6L1625.6 817.5L1626.1 820.5L1626.5 823.5L1627.0 826.4L1627.4 829.4L1627.9 832.4L1628.3 835.3L1628.8 838.3L1629.2 841.3L1629.7 844.2L1630.1 847.2L1630.6 850.2L1631.1 853.1L1631.5 856.1L1632.0 859.1L1632.5 862.0L1632.9 865.0L1633.4 868.0L1633.9 870.9L1634.4 873.9L1634.8 876.9L1635.3 879.8L1635.8 882.8L1636.3 885.7L1636.8 888.7L1637.3 891.7L1637.8 894.6L1638.3 897.6L1638.8 900.6L1639.3 903.5L1639.8 906.5L1640.3 909.4L1640.8 912.4L1641.3 915.4L1641.8 918.3L1642.3 921.3L1642.8 924.2L1643.3 927.2L1643.9 930.1L1644.4 933.1L1644.9 936.0L1645.4 939.0L1646.0 942.0L1646.5 944.9L1647.0 947.9L1647.6 950.8L1648.1 953.8L1648.7 956.7L1649.2 959.7L1649.8 962.6L1650.3 965.6L1650.9 968.5L1651.5 971.5L1652.0 974.4L1652.6 977.4L1653.2 980.3L1653.8 983.3L1654.3 986.2L1654.9 989.1L1655.5 992.1L1656.1 995.0L1656.7 998.0L1657.3 1000.9L1657.9 1003.9L1658.5 1006.8L1659.1 1009.7L1659.7 1012.7L1660.4 1015.6L1661.0 1018.6L1661.6 1021.5L1662.3 1024.4L1662.9 1027.4L1663.5 1030.3L1664.2 1033.2L1664.8 1036.2L1665.5 1039.1L1666.1 1042.0L1666.8 1044.9L1667.5 1047.9L1668.1 1050.8L1668.8 1053.7L1669.5 1056.6L1670.2 1059.6L1670.9 1062.5L1671.6 1065.4L1672.3 1068.3L1673.0 1071.2L1673.7 1074.2L1674.4 1077.1L1675.2 1080.0L1675.9 1082.9L1676.6 1085.8L1677.4 1088.7L1678.1 1091.6L1678.9 1094.5L1679.6 1097.4L1680.4 1100.3L1681.2 1103.2L1682.0 1106.1L1682.8 1109.0L1683.6 1111.9L1684.4 1114.8L1685.2 1117.7L1686.0 1120.6L1686.8 1123.5L1687.6 1126.4L1688.5 1129.2L1689.3 1132.1L1690.2 1135.0L1691.0 1137.9L1691.9 1140.8L1692.8 1143.6L1693.7 1146.5L1694.5 1149.4L1695.4 1152.2L1696.4 1155.1L1697.3 1157.9L1698.2 1160.8L1699.1 1163.7L1700.1 1166.5L1701.0 1169.4L1702.0 1172.2L1703.0 1175.0L1703.9 1177.9L1704.9 1180.7L1705.9 1183.5L1707.0 1186.4L1708.0 1189.2L1709.0 1192.0L1710.1 1194.8L1711.1 1197.6L1712.2 1200.4L1713.3 1203.2L1714.3 1206.0L1715.4 1208.8L1716.6 1211.6L1717.7 1214.4L1718.8 1217.2L1720.0 1220.0L1721.1 1222.7L1722.3 1225.5L1723.5 1228.2L1724.7 1231.0L1725.9 1233.7L1727.2 1236.5L1728.4 1239.2L1729.7 1241.9L1730.9 1244.6L1732.2 1247.4L1733.5 1250.1L1734.9 1252.8L1736.2 1255.4L1737.5 1258.1L1738.9 1260.8L1740.3 1263.5L1741.7 1266.1L1743.1 1268.8L1744.6 1271.4L1746.0 1274.0L1747.5 1276.6L1749.0 1279.2L1750.5 1281.8L1752.0 1284.4L1753.6 1287.0L1755.1 1289.5L1756.7 1292.1L1758.3 1294.6L1760.0 1297.2L1761.6 1299.7L1763.3 1302.2L1765.0 1304.6L1766.7 1307.1L1768.4 1309.6L1770.1 1312.0L1771.9 1314.4L1773.7 1316.8L1775.5 1319.2L1777.4 1321.6L1779.2 1324.0L1781.1 1326.3L1783.0 1328.6L1784.9 1330.9L1786.9 1333.2L1788.8 1335.5L1790.8 1337.7L1792.8 1340.0L1794.9 1342.2L1796.9 1344.4L1799.0 1346.5L1801.1 1348.7L1803.2 1350.8L1805.4 1352.9L1807.6 1355.0L1809.7 1357.0L1812.0 1359.0L1814.2 1361.1L1816.4 1363.0L1818.7 1365.0L1821.0 1366.9L1823.3 1368.8L1825.7 1370.7L1828.0 1372.6L1830.4 1374.4L1832.8 1376.2L1835.2 1378.0L1837.6 1379.8L1840.1 1381.5L1842.6 1383.2L1845.1 1384.9L1847.6 1386.5L1850.1 1388.1L1852.7 1389.7L1855.2 1391.2L1857.8 1392.8L1860.4 1394.2L1863.1 1395.7L1865.7 1397.1L1868.4 1398.4L1871.1 1399.8L1873.8 1401.1L1876.5 1402.4L1879.3 1403.6L1882.0 1404.8L1884.8 1405.9L1887.6 1407.0L1890.4 1408.1L1893.2 1409.2L1896.0 1410.2L1898.9 1411.1L1901.7 1412.1L1904.6 1412.9L1907.5 1413.8L1910.3 1414.6L1913.2 1415.5L1916.1 1416.3L1919.0 1417.1L1921.9 1417.9L1924.8 1418.6L1927.7 1419.4L1930.6 1420.2L1933.5 1420.9L1936.4 1421.7L1939.3 1422.4L1942.3 1423.1L1945.2 1423.8L1948.1 1424.5L1951.0 1425.2L1954.0 1425.8L1956.9 1426.4L1959.8 1427.0L1962.8 1427.6L1965.7 1428.2L1968.7 1428.7L1971.7 1429.2L1974.6 1429.6L1977.6 1430.1L1980.6 1430.5L1983.5 1430.9L1986.5 1431.2L1989.5 1431.5L1992.5 1431.8L1995.5 1432.1L1998.5 1432.3L2001.5 1432.6L2004.5 1432.7L2007.5 1432.9L2010.5 1433.0L2013.5 1433.1L2016.5 1433.2L2019.5 1433.2L2022.5 1433.2L2025.5 1433.2L2028.5 1433.2L2031.5 1433.1L2034.5 1433.0L2037.5 1432.9L2040.5 1432.7L2043.5 1432.5L2046.5 1432.3L2049.5 1432.1L2052.4 1431.8L2055.4 1431.5L2058.4 1431.2L2061.4 1430.8L2064.4 1430.4L2067.3 1430.0L2070.3 1429.5L2073.3 1429.0L2076.2 1428.5L2079.2 1428.0L2082.1 1427.4L2085.1 1426.8L2088.0 1426.1L2090.9 1425.4L2093.8 1424.7L2096.7 1424.0L2099.6 1423.2L2102.5 1422.3L2105.4 1421.5L2108.3 1420.6L2111.1 1419.6L2113.9 1418.6L2116.8 1417.6L2119.6 1416.5L2122.3 1415.4L2125.1 1414.2L2127.9 1413.0L2130.6 1411.8L2133.3 1410.4L2136.0 1409.1L2138.6 1407.7L2141.2 1406.2L2143.8 1404.7L2146.4 1403.2L2148.9 1401.6L2151.4 1399.9L2153.9 1398.2L2156.3 1396.4L2158.7 1394.6L2161.0 1392.7L2163.3 1390.7L2165.5 1388.7L2167.7 1386.7L2169.9 1384.6L2172.0 1382.4L2174.0 1380.2L2176.0 1377.9L2177.9 1375.6L2179.7 1373.3L2181.5 1370.9L2183.3 1368.4L2185.0 1365.9L2186.6 1363.4L2188.2 1360.9L2189.8 1358.3L2191.3 1355.7L2192.7 1353.1L2194.1 1350.4L2195.5 1347.7L2196.8 1345.1L2198.1 1342.3L2199.4 1339.6L2200.6 1336.9L2201.8 1334.1L2203.0 1331.4L2204.2 1328.6L2205.3 1325.8L2206.4 1323.1L2207.6 1320.3L2208.6 1317.5L2209.7 1314.7L2210.8 1311.9L2211.8 1309.1L2212.9 1306.2L2213.9 1303.4L2215.0 1300.6L2216.0 1297.8L2217.0 1295.0"/>
</g>
<g id="yticks">
<g transform="translate(109.45 1542.20) scale(1 1.0460)"><text x="0.00 44.75 67.50" y="0" font-size="81.90" style='font-family:"Liberation Sans", sans-serif'>0.0</text></g>
<g transform="translate(180.45 1359.20) scale(1 1.0460)" clip-path="url(#nofoot)"><text x="-71.00 -26.25 0.00" y="0" font-size="81.90" style='font-family:"Liberation Sans", sans-serif'>0.1</text></g>
<g transform="translate(109.45 1177.20) scale(1 1.0460)"><text x="0.00 44.75 67.50" y="0" font-size="81.90" style='font-family:"Liberation Sans", sans-serif'>0.2</text></g>
<g transform="translate(109.45 994.20) scale(1 1.0460)"><text x="0.00 44.75 67.50" y="0" font-size="81.90" style='font-family:"Liberation Sans", sans-serif'>0.3</text></g>
<g transform="translate(109.45 811.20) scale(1 1.0460)"><text x="0.00 44.75 67.50" y="0" font-size="81.90" style='font-family:"Liberation Sans", sans-serif'>0.4</text></g>
<g transform="translate(109.45 629.20) scale(1 1.0460)"><text x="0.00 44.75 67.50" y="0" font-size="81.90" style='font-family:"Liberation Sans", sans-serif'>0.5</text></g>
<g transform="translate(109.45 446.20) scale(1 1.0460)"><text x="0.00 44.75 67.50" y="0" font-size="81.90" style='font-family:"Liberation Sans", sans-serif'>0.6</text></g>
<g transform="translate(109.45 264.20) scale(1 1.0460)"><text x="0.00 44.75 67.50" y="0" font-size="81.90" style='font-family:"Liberation Sans", sans-serif'>0.7</text></g>
<g transform="translate(109.45 81.20) scale(1 1.0460)"><text x="0.00 44.75 67.50" y="0" font-size="81.90" style='font-family:"Liberation Sans", sans-serif'>0.8</text></g>
</g><g id="xticks">
<g transform="translate(401.92 1613.20) scale(1 1.0460)"><text x="0.00" y="0" font-size="81.90" style='font-family:"Liberation Sans", sans-serif'>6</text></g>
<g transform="translate(743.31 1613.20) scale(1 1.0460)"><text x="0.00" y="0" font-size="81.90" style='font-family:"Liberation Sans", sans-serif'>8</text></g>
<g transform="translate(1065.43 1613.20) scale(1 1.0460)" clip-path="url(#nofoot)"><text x="0.00 42.05" y="0" font-size="81.90" style='font-family:"Liberation Sans", sans-serif'>10</text></g>
<g transform="translate(1406.82 1613.20) scale(1 1.0460)" clip-path="url(#nofoot)"><text x="0.00 42.05" y="0" font-size="81.90" style='font-family:"Liberation Sans", sans-serif'>12</text></g>
<g transform="translate(1748.21 1613.20) scale(1 1.0460)" clip-path="url(#nofoot)"><text x="0.00 42.05" y="0" font-size="81.90" style='font-family:"Liberation Sans", sans-serif'>14</text></g>
<g transform="translate(2089.60 1613.20) scale(1 1.0460)" clip-path="url(#nofoot)"><text x="0.00 42.05" y="0" font-size="81.90" style='font-family:"Liberation Sans", sans-serif'>16</text></g>
</g>
<text transform="translate(1236.00 1746.00) scale(1.0000 1.0300)" font-size="81.90" text-anchor="middle" style='font-family:"Liberation Sans", sans-serif'>Frequency (THz)</text>
<text transform="translate(76.00 786.30) rotate(-90) scale(1.0000 1.0300)" font-size="81.90" text-anchor="middle" style='font-family:"Liberation Sans", sans-serif'>Heat losses - Q/P</text>
<g id="legend">
<g class="tk"><rect x="344" y="130" width="455" height="3"/><rect x="344" y="421" width="455" height="2"/><rect x="344" y="130" width="2" height="293"/><rect x="796" y="130" width="3" height="293"/></g>
<line x1="353.5" y1="262.5" x2="506.5" y2="262.5" stroke="#ff0000" stroke-width="11" stroke-linecap="round"/>
<line x1="353.5" y1="361.5" x2="506.5" y2="361.5" stroke="#000080" stroke-width="11" stroke-linecap="round"/>
<text transform="translate(353.70 202.00) scale(1.0000 1.0460)" font-size="68.40" text-anchor="start" style='font-family:"Liberation Sans", sans-serif'>Gap=4000 nm</text>
<text transform="translate(525.60 286.00) scale(1.0000 1.0460)" font-size="68.40" text-anchor="start" style='font-family:"Liberation Sans", sans-serif'>Q/P</text>
<text transform="translate(525.60 385.00) scale(1.0000 1.0460)" font-size="68.40" text-anchor="start" style='font-family:"Liberation Sans", sans-serif'>Q/P</text>
<text transform="translate(638.20 290.90) scale(1.0000 0.8800)" font-size="47.20" text-anchor="start" stroke="#000" stroke-width="1.1" style='font-family:"DejaVu Sans", "Liberation Sans", sans-serif'>⊥</text>
<text transform="translate(645.50 406.00) scale(1.0000 1.0000)" font-size="56.90" text-anchor="start" style='font-family:"DejaVu Sans", "Liberation Sans", sans-serif'>∥</text>
</g>
</svg>
</body>
</html>
